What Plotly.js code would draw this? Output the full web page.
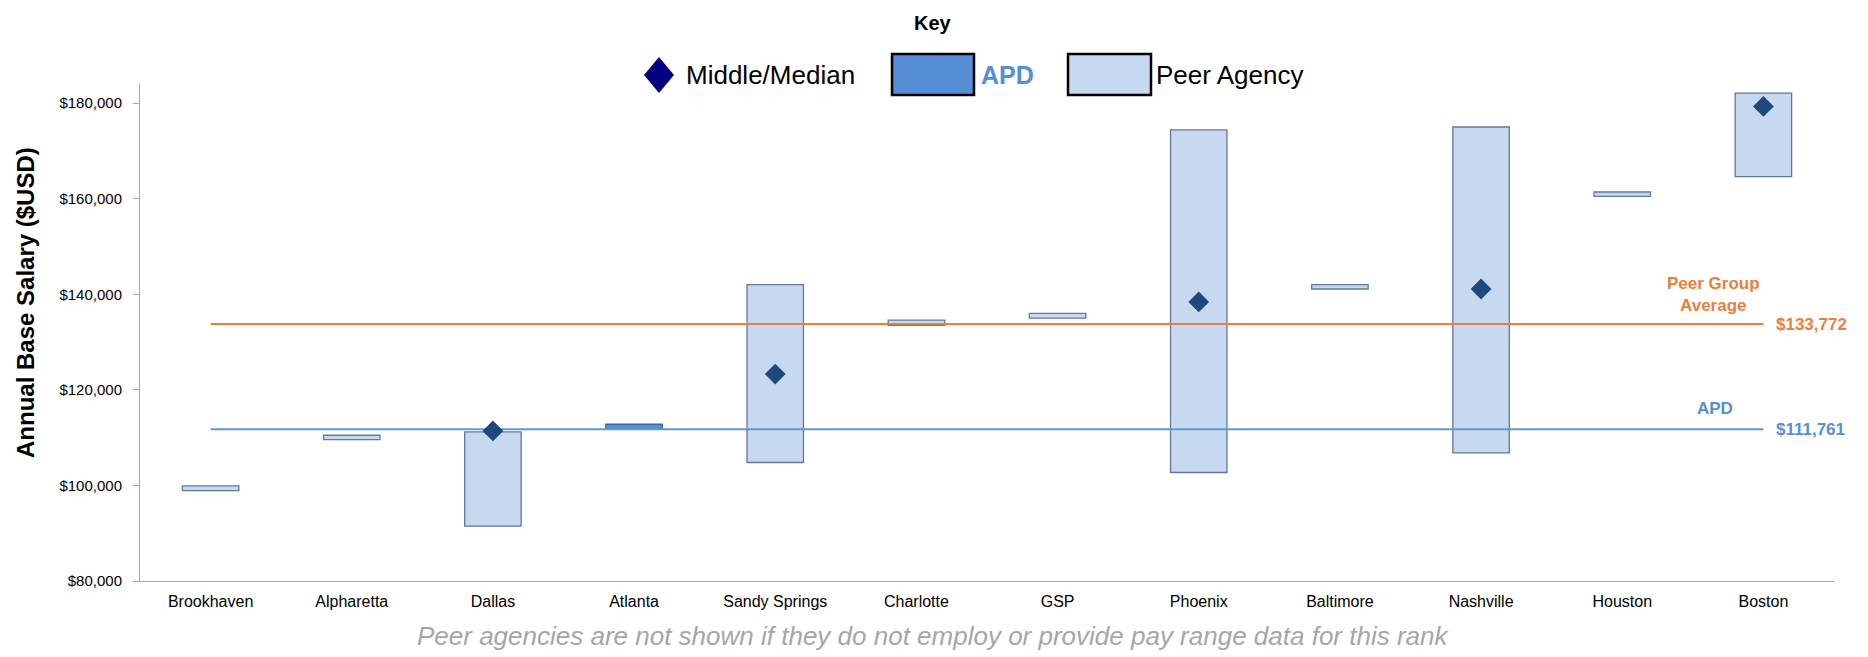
<!DOCTYPE html>
<html><head><meta charset="utf-8">
<script src="https://cdn.plot.ly/plotly-3.0.1.min.js"></script>
<style>html,body{margin:0;padding:0;background:#fff}#chart{width:1868px;height:657px}</style>
</head><body><div id="chart"></div>
<script>
// ---- data ----
const agencies  = ['Brookhaven','Alpharetta','Dallas','Atlanta','Sandy Springs','Charlotte','GSP','Phoenix','Baltimore','Nashville','Houston','Boston'];
const rangeMin  = [98900, 109600, 91500, 111761, 104800, 133500, 135000, 102700, 141100, 106800, 160500, 164600];
const rangeMax  = [99900, 110500, 111200, 112800, 142000, 134600, 136000, 174400, 142000, 175000, 161400, 182100];
const medians   = [null, null, 111400, null, 123300, null, null, 138400, null, 141100, null, 179300];
const apdAgency = 'Atlanta';
const peerAverage = 133772;
const apdSalary   = 111761;
const yTicks = [80000, 100000, 120000, 140000, 160000, 180000];
const yTickText = ['$80,000','$100,000','$120,000','$140,000','$160,000','$180,000'];

// ---- layout helpers (pixel -> paper) ----
const W = 1868, H = 657, ML = 140, MR = 34, MT = 84, MB = 76;
const PL = ML, PR = W - MR, PT = MT, PB = H - MB;
const px = x => (x - PL) / (PR - PL);
const py = y => (PB - y) / (PB - PT);

const peerBase = agencies.map((a,i) => a === apdAgency ? null : rangeMin[i]);
const peerLen  = agencies.map((a,i) => a === apdAgency ? null : rangeMax[i] - rangeMin[i]);
const apdBase  = agencies.map((a,i) => a === apdAgency ? rangeMin[i] : null);
const apdLen   = agencies.map((a,i) => a === apdAgency ? rangeMax[i] - rangeMin[i] : null);

const first = agencies[0], last = agencies[agencies.length-1];

const traces = [
  {type:'bar', x:agencies, y:peerLen, base:peerBase, width:0.4,
   marker:{color:'#c6d9f0', line:{color:'#62799b', width:1.3}}, hoverinfo:'skip'},
  {type:'bar', x:agencies, y:apdLen, base:apdBase, width:0.4,
   marker:{color:'#558ed5', line:{color:'#3b67a3', width:1.3}}, hoverinfo:'skip'},
  {type:'scatter', mode:'lines', x:[first,last], y:[peerAverage,peerAverage],
   line:{color:'#ea7f3c', width:2}, hoverinfo:'skip'},
  {type:'scatter', mode:'lines', x:[first,last], y:[apdSalary,apdSalary],
   line:{color:'#5b9bd5', width:2}, hoverinfo:'skip'},
  {type:'scatter', mode:'markers', x:agencies, y:medians,
   marker:{symbol:'diamond', size:16, color:'#1f497d'}, hoverinfo:'skip'}
];

const F = 'Arial, "Liberation Sans", sans-serif';
const fmt = v => '$' + v.toLocaleString('en-US');

const annotations = [
  {xref:'paper', yref:'paper', x:px(933), y:py(23), text:'<b>Key</b>', showarrow:false,
   font:{family:F, size:20, color:'#000'}, xanchor:'center', yanchor:'middle'},
  {xref:'paper', yref:'paper', x:px(684), y:py(75), text:'Middle/Median', showarrow:false,
   font:{family:F, size:26, color:'#000'}, xanchor:'left', yanchor:'middle'},
  {xref:'paper', yref:'paper', x:px(979), y:py(75), text:'<b>APD</b>', showarrow:false,
   font:{family:F, size:25, color:'#558ed5'}, xanchor:'left', yanchor:'middle'},
  {xref:'paper', yref:'paper', x:px(1154), y:py(75), text:'Peer Agency', showarrow:false,
   font:{family:F, size:26, color:'#000'}, xanchor:'left', yanchor:'middle'},
  {xref:'paper', yref:'y', x:px(1713), y:peerAverage, yshift:7, text:'<b>Peer Group<br>Average</b>', showarrow:false,
   font:{family:F, size:17, color:'#ea7f3c'}, xanchor:'center', yanchor:'bottom'},
  {xref:'paper', yref:'y', x:px(1774), y:peerAverage, text:'<b>'+fmt(peerAverage)+'</b>', showarrow:false,
   font:{family:F, size:17, color:'#ea7f3c'}, xanchor:'left', yanchor:'middle'},
  {xref:'paper', yref:'y', x:px(1715), y:apdSalary, yshift:9, text:'<b>APD</b>', showarrow:false,
   font:{family:F, size:17, color:'#558ed5'}, xanchor:'center', yanchor:'bottom'},
  {xref:'paper', yref:'y', x:px(1774), y:apdSalary, text:'<b>'+fmt(apdSalary)+'</b>', showarrow:false,
   font:{family:F, size:17, color:'#558ed5'}, xanchor:'left', yanchor:'middle'},
  {xref:'paper', yref:'paper', x:px(25), y:py(303), text:'<b>Annual Base Salary ($USD)</b>', showarrow:false,
   textangle:-90, font:{family:F, size:24, color:'#000'}, xanchor:'center', yanchor:'middle'},
  {xref:'paper', yref:'paper', x:px(933), y:py(636), text:'<i>Peer agencies are not shown if they do not employ or provide pay range data for this rank</i>', showarrow:false,
   font:{family:F, size:26, color:'#a6a6a6'}, xanchor:'center', yanchor:'middle'}
];

const shapes = [
  {type:'path', xref:'paper', yref:'paper',
   path:`M ${px(644)},${py(75)} L ${px(659)},${py(57)} L ${px(674)},${py(75)} L ${px(659)},${py(93)} Z`,
   fillcolor:'#000080', line:{width:0}},
  {type:'rect', xref:'paper', yref:'paper', x0:px(892), x1:px(974), y0:py(95), y1:py(54),
   fillcolor:'#558ed5', line:{color:'#000', width:2.5}},
  {type:'rect', xref:'paper', yref:'paper', x0:px(1068), x1:px(1151), y0:py(95), y1:py(54),
   fillcolor:'#c6d9f0', line:{color:'#000', width:2.5}}
];

const layout = {
  width:W, height:H, margin:{l:ML, r:MR, t:MT, b:MB, pad:0},
  paper_bgcolor:'#fff', plot_bgcolor:'#fff', showlegend:false, barmode:'overlay',
  font:{family:F, color:'#000'},
  xaxis:{type:'category', range:[-0.5, 11.5], showline:true, linecolor:'#a6a6a6', linewidth:1,
         ticks:'', showgrid:false, zeroline:false, ticklabelstandoff:6,
         tickfont:{family:F, size:16, color:'#000'}, fixedrange:true},
  yaxis:{range:[80000, 184000], tickvals:yTicks, ticktext:yTickText, showline:true, linecolor:'#a6a6a6', linewidth:1,
         ticks:'outside', ticklen:6, tickcolor:'#a6a6a6', showgrid:false, zeroline:false,
         ticklabelstandoff:8, tickfont:{family:F, size:15, color:'#000'}, fixedrange:true},
  annotations, shapes
};

Plotly.newPlot('chart', traces, layout, {displayModeBar:false, staticPlot:true});
</script>
</body></html>
